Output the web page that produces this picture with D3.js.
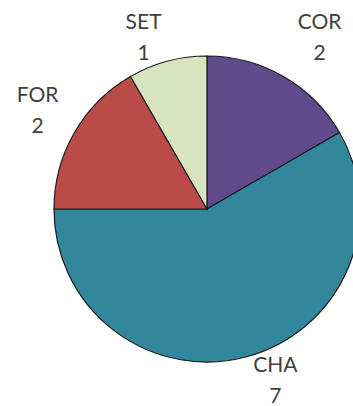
<!DOCTYPE html>
<html>
<head>
<meta charset="utf-8">
<script src="https://cdn.jsdelivr.net/npm/d3@7"></script>
<style>
  body { margin: 0; background: #fff; }
  svg { display: block; }
</style>
</head>
<body>
<script>
const categories = ['COR', 'CHA', 'FOR', 'SET']
const values = [2, 7, 2, 1]
const colors = ['#5f4b8b', '#33879c', '#bb4b48', '#d7e4bd']

const WIDTH = 353
const HEIGHT = 406
const cx = 207
const cy = 209
const radius = 153

const svg = d3.select('body')
  .append('svg')
  .attr('width', WIDTH)
  .attr('height', HEIGHT)

const pie = d3.pie().sort(null).value(d => d.value)
const arcs = pie(categories.map((c, i) => ({ name: c, value: values[i], color: colors[i] })))

const arcPath = d3.arc().innerRadius(0).outerRadius(radius)

const g = svg.append('g').attr('transform', `translate(${cx},${cy})`)

g.selectAll('path')
  .data(arcs)
  .enter()
  .append('path')
  .attr('d', arcPath)
  .attr('fill', d => d.data.color)
  .attr('stroke', '#1a1a1a')
  .attr('stroke-width', 1.2)

// labels outside the rim, nudged to where excel put them
const labelArc = d3.arc().innerRadius(191).outerRadius(191)
const labelOffsets = { COR: [17, -15], CHA: [19, -21], FOR: [-4, -12], SET: [-14, 4] }

const labels = g.selectAll('g.lbl')
  .data(arcs)
  .enter()
  .append('g')
  .attr('class', 'lbl')
  .attr('transform', d => {
    const [x, y] = labelArc.centroid(d)
    const o = labelOffsets[d.data.name]
    return `translate(${x + o[0]},${y + o[1]})`
  })

labels.append('text')
  .attr('text-anchor', 'middle')
  .attr('y', 0)
  .attr('font-family', 'Lato, "Open Sans", sans-serif')
  .attr('font-size', 21)
  .attr('fill', '#404040')
  .text(d => d.data.name)

labels.append('text')
  .attr('text-anchor', 'middle')
  .attr('y', 31)
  .attr('font-family', 'Lato, "Open Sans", sans-serif')
  .attr('font-size', 21)
  .attr('fill', '#404040')
  .text(d => d.data.value)
</script>
</body>
</html>
